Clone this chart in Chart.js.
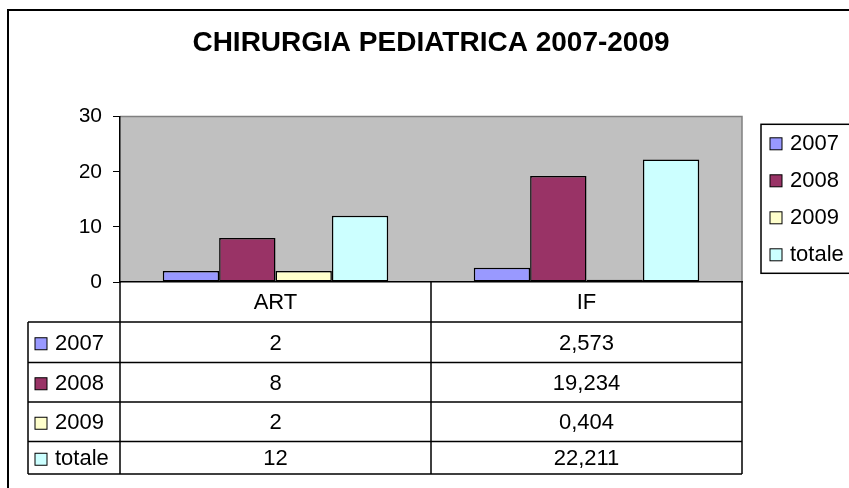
<!DOCTYPE html>
<html>
<head>
<meta charset="utf-8">
<title>Chirurgia pediatrica 2007-2009</title>
<script src="https://cdn.jsdelivr.net/npm/chart.js@4.4.1/dist/chart.umd.min.js"></script>
<style>
  html, body { margin: 0; padding: 0; background: #fff; }
  canvas { display: block; }
</style>
</head>
<body>
<canvas id="chirurgiaChart" width="849" height="488"></canvas>
<script>
const categories = ['ART', 'IF'];
const seriesNames = ['2007', '2008', '2009', 'totale'];
const values2007 = [2, 2.573];
const values2008 = [8, 19.234];
const values2009 = [2, 0.404];
const valuesTotale = [12, 22.211];
const seriesColors = ['#9999FF', '#993366', '#FFFFCC', '#CCFFFF'];
const yTicks = [0, 10, 20, 30];

const FONT = '"Liberation Sans", Arial, sans-serif';
const seriesValues = [values2007, values2008, values2009, valuesTotale];

// italian decimal comma, like the excel table
function fmt(v) {
    return String(v).replace('.', ',');
}

// grey plot area + outer chart border
const frame = {
    id: 'frame',
    beforeDraw(chart) {
        const { ctx, chartArea: a } = chart;
        ctx.save();
        ctx.fillStyle = '#C0C0C0';
        ctx.fillRect(a.left, a.top, a.right - a.left, a.bottom - a.top);
        ctx.strokeStyle = '#808080';
        ctx.lineWidth = 1.5;
        ctx.beginPath();
        ctx.moveTo(a.left, a.top);
        ctx.lineTo(a.right, a.top);
        ctx.lineTo(a.right, a.bottom);
        ctx.stroke();
        ctx.strokeStyle = '#000';
        ctx.lineWidth = 2;
        ctx.strokeRect(8, 10, 1000, 1000);
        ctx.restore();
    }
};

// data table under the x axis
const dataTable = {
    id: 'dataTable',
    afterDraw(chart) {
        const { ctx, chartArea: a, scales: { x } } = chart;
        const labelLeft = 28;
        const headerBottom = a.bottom + 40;
        const rowHeights = [40.5, 39.5, 39.5, 32.5];

        const cols = [a.left];
        for (let i = 1; i < categories.length; i++) {
            cols.push((x.getPixelForValue(i - 1) + x.getPixelForValue(i)) / 2);
        }
        cols.push(a.right);

        const rows = [headerBottom];
        rowHeights.forEach(h => rows.push(rows[rows.length - 1] + h));
        const bottom = rows[rows.length - 1];

        ctx.save();
        ctx.strokeStyle = '#000';
        ctx.lineWidth = 1.5;
        ctx.beginPath();
        // header row
        ctx.moveTo(a.left, a.bottom);
        ctx.lineTo(a.left, headerBottom);
        cols.forEach(c => { ctx.moveTo(c, a.bottom); ctx.lineTo(c, bottom); });
        // body rows
        rows.forEach(r => { ctx.moveTo(labelLeft, r); ctx.lineTo(a.right, r); });
        ctx.moveTo(labelLeft, headerBottom);
        ctx.lineTo(labelLeft, bottom);
        ctx.stroke();

        ctx.font = '22px ' + FONT;
        ctx.textBaseline = 'middle';
        seriesNames.forEach((name, r) => {
            const cy = (rows[r] + rows[r + 1]) / 2 + 1.5;
            ctx.fillStyle = seriesColors[r];
            ctx.fillRect(35, cy - 6, 12, 12);
            ctx.lineWidth = 1;
            ctx.strokeRect(35, cy - 6, 12, 12);
            ctx.fillStyle = '#000';
            ctx.textAlign = 'left';
            ctx.fillText(name, 55, cy);
            ctx.textAlign = 'center';
            seriesValues[r].forEach((v, c) => {
                ctx.fillText(fmt(v), (cols[c] + cols[c + 1]) / 2, cy);
            });
        });
        ctx.restore();
    }
};

// excel style legend box on the right, partly cut by the picture edge
const boxLegend = {
    id: 'boxLegend',
    afterDraw(chart) {
        const { ctx, chartArea: a } = chart;
        const mid = (a.top + a.bottom) / 2;
        const step = 37;
        ctx.save();
        ctx.strokeStyle = '#000';
        ctx.lineWidth = 1.5;
        ctx.strokeRect(761, mid - 75, 200, 149);
        ctx.font = '22px ' + FONT;
        ctx.textBaseline = 'middle';
        ctx.textAlign = 'left';
        seriesNames.forEach((name, i) => {
            const cy = mid + (i - 1.5) * step;
            ctx.fillStyle = seriesColors[i];
            ctx.fillRect(770, cy - 6, 12, 12);
            ctx.lineWidth = 1;
            ctx.strokeRect(770, cy - 6, 12, 12);
            ctx.fillStyle = '#000';
            ctx.fillText(name, 790, cy);
        });
        ctx.restore();
    }
};

new Chart(document.getElementById('chirurgiaChart'), {
    type: 'bar',
    data: {
        labels: categories,
        datasets: seriesNames.map((name, i) => ({
            label: name,
            data: seriesValues[i],
            backgroundColor: seriesColors[i],
            borderColor: '#000',
            borderWidth: 1.5,
            borderSkipped: false,
            categoryPercentage: 0.725,
            barPercentage: 1
        }))
    },
    options: {
        responsive: false,
        animation: false,
        layout: { padding: { left: 80, right: 107, top: 0, bottom: 14 } },
        plugins: {
            legend: { display: false },
            tooltip: { enabled: false },
            title: {
                display: true,
                fullSize: false,
                text: 'CHIRURGIA PEDIATRICA 2007-2009',
                color: '#000',
                font: { family: FONT, size: 28, weight: 'bold' },
                padding: { top: 26, bottom: 57 }
            }
        },
        scales: {
            x: {
                grid: { display: false, drawTicks: false },
                border: { display: true, color: '#000', width: 1.5 },
                ticks: { color: '#000', font: { family: FONT, size: 22 }, padding: 8 },
                afterFit(scale) { scale.height = 192; }
            },
            y: {
                min: 0,
                max: 30,
                afterBuildTicks(scale) { scale.ticks = yTicks.map(v => ({ value: v })); },
                grid: { drawOnChartArea: false, drawTicks: true, tickLength: 7, color: '#000', lineWidth: 1 },
                border: { color: '#000', width: 1.5 },
                ticks: { color: '#000', font: { family: FONT, size: 21 }, padding: 11 },
                afterFit(scale) { scale.width = 40; }
            }
        }
    },
    plugins: [frame, dataTable, boxLegend]
});
</script>
</body>
</html>
